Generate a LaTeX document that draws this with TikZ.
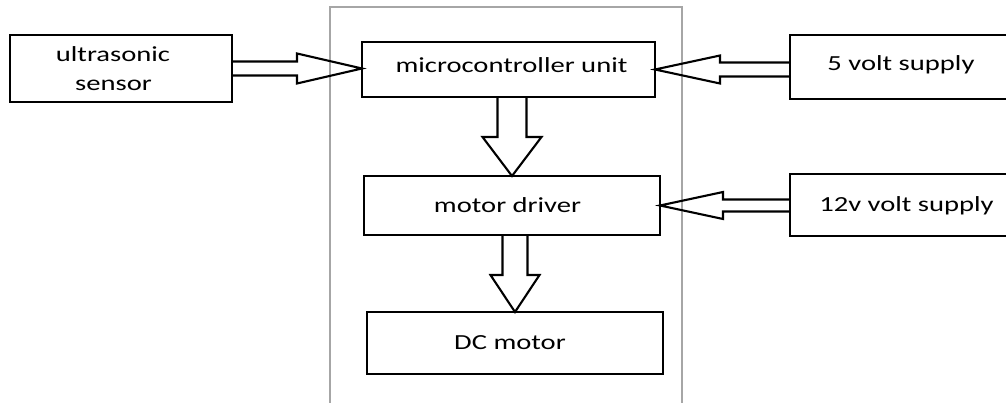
\documentclass[tikz,border=0pt]{standalone}
\usepackage{fontspec}
\newfontfamily\calfont[FakeStretch=1.33]{Carlito}
\usetikzlibrary{calc}
\newcommand\blockarrow[5]{% #1 start, #2 tip, #3 half shaft, #4 half head, #5 head length
  \coordinate (ba) at ($(#2)!#5!(#1)$);
  \draw[arr] ($(#1)!#3!90:(#2)$) -- ($(ba)!#3!90:(#2)$) -- ($(ba)!#4!90:(#2)$) -- (#2)
    -- ($(ba)!#4!-90:(#2)$) -- ($(ba)!#3!-90:(#2)$) -- ($(#1)!#3!-90:(#2)$);
}
\begin{document}
\begin{tikzpicture}[x=1pt,y=-1pt,
  box/.style={draw, line width=2.4pt, outer sep=0pt, inner sep=0pt},
  arr/.style={draw, line width=2.1pt, line join=miter},
  frame/.style={draw=black!35, line width=2pt},
  lbl/.style={font=\calfont\fontsize{21.5}{26}\selectfont, anchor=base, inner sep=0pt}]
\useasboundingbox (0,0) rectangle (1006,403);
% gray frame
\coordinate (fbl) at (330,410);
\coordinate (ftl) at (330,7);
\coordinate (ftr) at (682,7);
\coordinate (fbr) at (682,410);
\draw[frame] (fbl) -- (ftl) -- (ftr) -- (fbr);
% boxes
\node[box, minimum width=222pt, minimum height=67pt] (sens) at (121,68.5) {};
\node[box, minimum width=293pt, minimum height=55pt] (mcu) at (508.5,69.5) {};
\node[box, minimum width=225pt, minimum height=64pt] (v5) at (902.5,67) {};
\node[box, minimum width=296pt, minimum height=59pt] (drv) at (512,205.5) {};
\node[box, minimum width=225pt, minimum height=62pt] (v12) at (902.5,205) {};
\node[box, minimum width=296pt, minimum height=62pt] (dc) at (515,343) {};
% labels
\node[lbl] (t1) at (113,61.7) {ultrasonic};
\node[lbl] (t2) at (113.5,91) {sensor};
\node[lbl] (t3) at (511.5,73) {microcontroller unit};
\node[lbl] (t4) at (901,71) {5 volt supply};
\node[lbl] (t5) at (507.5,212.7) {motor driver};
\node[lbl] (t6) at (906.5,211.7) {12v volt supply};
\node[lbl] (t7) at (510,349.3) {DC motor};
% arrows
\coordinate (a1s) at (sens.east);
\coordinate (a1t) at (sens.east -| mcu.west);
\blockarrow{a1s}{a1t}{7pt}{15pt}{65pt}
\coordinate (a2t) at (mcu.east);
\coordinate (a2s) at (mcu.east -| v5.west);
\blockarrow{a2s}{a2t}{7pt}{14pt}{65pt}
\coordinate (a3t) at (drv.north);
\coordinate (a3s) at (drv.north |- mcu.south);
\blockarrow{a3s}{a3t}{14.5pt}{29.5pt}{39pt}
\coordinate (a4t) at (dc.north);
\coordinate (a4s) at (dc.north |- drv.south);
\blockarrow{a4s}{a4t}{12.5pt}{24.5pt}{37pt}
\coordinate (a5t) at (drv.east);
\coordinate (a5s) at (drv.east -| v12.west);
\blockarrow{a5s}{a5t}{6pt}{13.5pt}{63pt}
\end{tikzpicture}
\end{document}
